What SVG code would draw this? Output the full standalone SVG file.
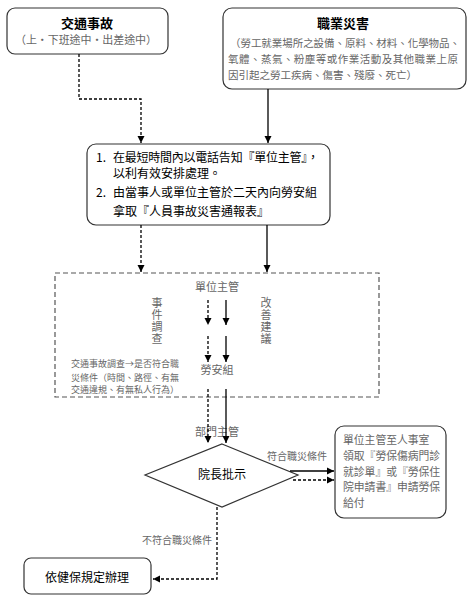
<svg xmlns="http://www.w3.org/2000/svg" width="472" height="602" viewBox="0 0 472 602">
<defs>
<marker id="ah" markerWidth="8" markerHeight="8" refX="7" refY="4" orient="auto" markerUnits="userSpaceOnUse">
<path d="M0,0.5 L7,4 L0,7.5 Z" fill="#000"/>
</marker>
</defs>
<style>
.box{fill:#fff;stroke:#333;stroke-width:1.2}
.t{font-family:"Noto Sans CJK TC","Noto Sans CJK SC",sans-serif;fill:#000}
.g{font-family:"Noto Sans CJK TC","Noto Sans CJK SC",sans-serif;fill:#666}
.v{writing-mode:vertical-rl;letter-spacing:1px}
.s{fill:none;stroke:#000;stroke-width:1.3}
.d{fill:none;stroke:#000;stroke-width:1.3;stroke-dasharray:3,2}
.db{fill:none;stroke:#555;stroke-width:1.2;stroke-dasharray:5,3}
</style>
<rect width="472" height="602" fill="#fff"/>

<g id="traffic">
<rect class="box" x="7" y="8" width="161" height="46" rx="8"/>
<text class="t" x="87" y="28" font-size="13" font-weight="bold" text-anchor="middle">交通事故</text>
<text class="g" x="86" y="44" font-size="11" text-anchor="middle" textLength="142">（上・下班途中・出差途中）</text>
</g>

<g id="occupational">
<rect class="box" x="223" y="8" width="243" height="81" rx="9"/>
<text class="t" x="343" y="28" font-size="13" font-weight="bold" text-anchor="middle">職業災害</text>
<text class="g" x="230" y="47" font-size="10.5" textLength="230">（勞工就業場所之設備、原料、材料、化學物品、</text>
<text class="g" x="228" y="63" font-size="10.5" textLength="230">氧體、蒸氣、粉塵等或作業活動及其他職業上原</text>
<text class="g" x="228" y="79" font-size="10.5" textLength="189">因引起之勞工疾病、傷害、殘廢、死亡）</text>
</g>

<g id="notify">
<rect class="box" x="87" y="144" width="243" height="81" rx="9"/>
<text class="t" x="96" y="162" font-size="12" font-family="Liberation Serif">1.</text>
<text class="t" x="113" y="162" font-size="12" textLength="206">在最短時間內以電話告知『單位主管』，</text>
<text class="t" x="113" y="178" font-size="12">以利有效安排處理。</text>
<text class="t" x="96" y="197" font-size="12" font-family="Liberation Serif">2.</text>
<text class="t" x="113" y="197" font-size="12" textLength="204">由當事人或單位主管於二天內向勞安組</text>
<text class="t" x="113" y="216" font-size="12">拿取『人員事故災害通報表』</text>
</g>

<g id="investigation">
<rect class="db" x="55" y="273" width="324" height="124"/>
<text class="g" x="217" y="291" font-size="11" text-anchor="middle">單位主管</text>
<text class="g v" x="157" y="297" font-size="11">事件調查</text>
<text class="g v" x="266" y="297" font-size="11">改善建議</text>
<text class="g" x="217" y="374" font-size="11" text-anchor="middle">勞安組</text>
<text class="g" x="71" y="367" font-size="9" textLength="108">交通事故調查→是否符合職</text>
<text class="g" x="71" y="381" font-size="9" textLength="108">災條件（時間、路徑、有無</text>
<text class="g" x="71" y="393" font-size="9" textLength="108">交通違規、有無私人行為）</text>
</g>

<g id="dept-head">
<text class="g" x="217" y="436" font-size="11" text-anchor="middle">部門主管</text>
</g>

<g id="approval">
<polygon class="box" points="222,444 298,475 222,507 145,475"/>
<text class="t" x="222" y="479" font-size="12" text-anchor="middle">院長批示</text>
</g>

<g id="insurance">
<rect class="box" x="335" y="426" width="111" height="92" rx="9"/>
<text class="g" font-size="10.8"><tspan x="343" y="444">單位主管至人事室</tspan><tspan x="343" y="460">領取『勞保傷病門診</tspan><tspan x="343" y="476">就診單』或『勞保住</tspan><tspan x="343" y="491">院申請書』申請勞保</tspan><tspan x="343" y="507">給付</tspan></text>
</g>

<g id="health">
<rect class="box" x="24" y="558" width="127" height="36" rx="7"/>
<text class="t" x="87" y="582" font-size="12" text-anchor="middle">依健保規定辦理</text>
</g>

<g id="connectors">
<path class="d" d="M79,54 V99 H141 V143" marker-end="url(#ah)"/>
<path class="s" d="M268,89 V143" marker-end="url(#ah)"/>
<path class="d" d="M141,225 V272" marker-end="url(#ah)"/>
<path class="s" d="M267,225 V272" marker-end="url(#ah)"/>
<path class="d" d="M208,300 V325" marker-end="url(#ah)"/>
<path class="d" d="M208,336 V362" marker-end="url(#ah)"/>
<path class="s" d="M226,300 V325" marker-end="url(#ah)"/>
<path class="s" d="M226,336 V362" marker-end="url(#ah)"/>
<path class="d" d="M208,389 V443" marker-end="url(#ah)"/>
<path class="s" d="M226,389 V443" marker-end="url(#ah)"/>
<text class="g" x="297" y="460" font-size="10" text-anchor="middle">符合職災條件</text>
<path class="s" d="M290,471 H334" marker-end="url(#ah)"/>
<path class="d" d="M293,480 H334" marker-end="url(#ah)"/>
<path class="d" d="M217,507 V579 H153" marker-end="url(#ah)"/>
<text class="g" x="212" y="544" font-size="10" text-anchor="end">不符合職災條件</text>
</g>
</svg>
